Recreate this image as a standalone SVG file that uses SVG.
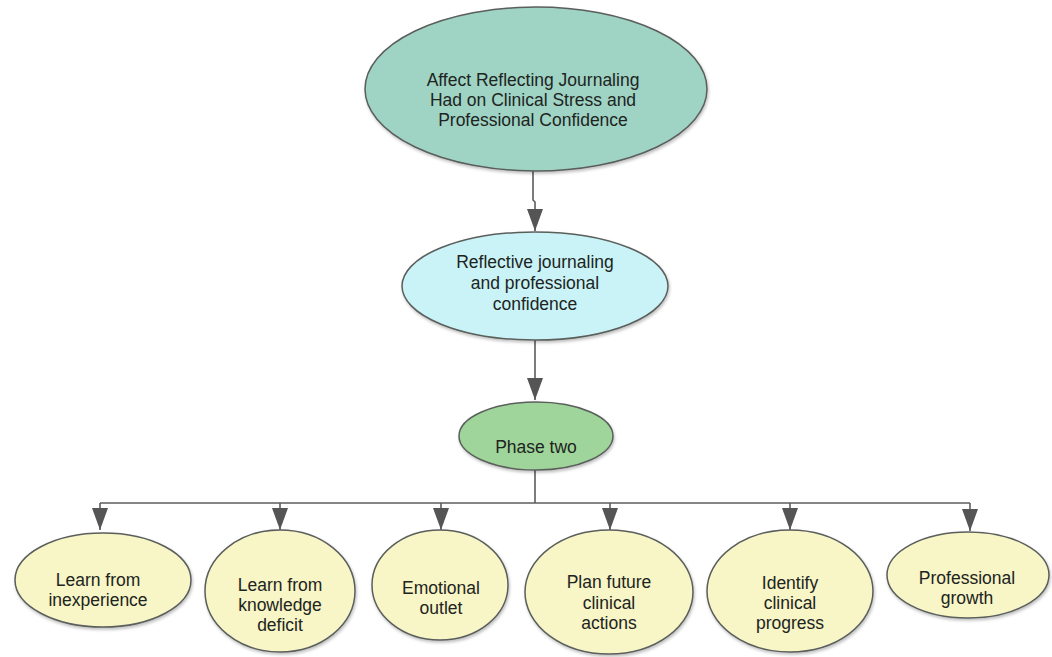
<svg xmlns="http://www.w3.org/2000/svg" width="1052" height="657" viewBox="0 0 1052 657">
  <style>
    .node ellipse { stroke: #5a5f5c; stroke-width: 1.5; filter: url(#shadow); }
    .root ellipse { fill: #9fd3c4; }
    .mid ellipse { fill: #c9f3f7; }
    .phase ellipse { fill: #9fd59a; }
    .leaf ellipse { fill: #f8f5c6; }
    .node text { font-family: "Liberation Sans", Arial, sans-serif; font-size: 17.5px; fill: #202421; text-anchor: middle; }
    .edge { fill: none; stroke: #5c5c5c; stroke-width: 1.6; }
  </style>
  <defs>
    <filter id="shadow" x="-10%" y="-10%" width="120%" height="130%">
      <feDropShadow dx="1" dy="2" stdDeviation="1.5" flood-color="#000" flood-opacity="0.25"/>
    </filter>
    <marker id="arrow" markerUnits="userSpaceOnUse" markerWidth="22" markerHeight="16" viewBox="0 0 22 16" refX="22" refY="8" orient="auto">
      <path d="M0,0 L22,8 L0,16 Z" fill="#555"/>
    </marker>
  </defs>
  <rect width="1052" height="657" fill="#ffffff"/>

  <g id="connectors">
    <path class="edge" d="M533,171 L533,200 L535,202 L535,231" marker-end="url(#arrow)"/>
    <path class="edge" d="M535,340 L535,400" marker-end="url(#arrow)"/>
    <path class="edge" d="M535,470 L535,503"/>
    <path class="edge" d="M100,503 L970,503"/>
    <path class="edge" d="M100,503 L100,530" marker-end="url(#arrow)"/>
    <path class="edge" d="M280,503 L280,530" marker-end="url(#arrow)"/>
    <path class="edge" d="M441,503 L441,530" marker-end="url(#arrow)"/>
    <path class="edge" d="M610,503 L610,530" marker-end="url(#arrow)"/>
    <path class="edge" d="M790,503 L790,530" marker-end="url(#arrow)"/>
    <path class="edge" d="M970,503 L970,531" marker-end="url(#arrow)"/>
  </g>

  <g id="root" class="node root">
    <ellipse cx="536" cy="89" rx="171" ry="82"/>
    <text x="533" y="86">Affect Reflecting Journaling</text>
    <text x="533" y="106">Had on Clinical Stress and</text>
    <text x="533" y="126">Professional Confidence</text>
  </g>

  <g id="reflective" class="node mid">
    <ellipse cx="535" cy="286" rx="133" ry="54"/>
    <text x="535" y="268">Reflective journaling</text>
    <text x="535" y="289">and professional</text>
    <text x="535" y="310">confidence</text>
  </g>

  <g id="phase-two" class="node phase">
    <ellipse cx="536" cy="436" rx="77" ry="34"/>
    <text x="536" y="453">Phase two</text>
  </g>

  <g id="inexperience" class="node leaf">
    <ellipse cx="103" cy="580" rx="88" ry="47"/>
    <text x="98" y="586">Learn from</text>
    <text x="98" y="606">inexperience</text>
  </g>

  <g id="knowledge-deficit" class="node leaf">
    <ellipse cx="280" cy="591" rx="75" ry="61"/>
    <text x="280" y="591">Learn from</text>
    <text x="280" y="611">knowledge</text>
    <text x="280" y="631">deficit</text>
  </g>

  <g id="emotional-outlet" class="node leaf">
    <ellipse cx="440" cy="585" rx="68" ry="55"/>
    <text x="441" y="594">Emotional</text>
    <text x="441" y="614">outlet</text>
  </g>

  <g id="plan-future" class="node leaf">
    <ellipse cx="609" cy="592" rx="84" ry="62"/>
    <text x="609" y="588">Plan future</text>
    <text x="609" y="609">clinical</text>
    <text x="609" y="629">actions</text>
  </g>

  <g id="identify-progress" class="node leaf">
    <ellipse cx="790" cy="591" rx="83" ry="61"/>
    <text x="790" y="589">Identify</text>
    <text x="790" y="609">clinical</text>
    <text x="790" y="629">progress</text>
  </g>

  <g id="professional-growth" class="node leaf">
    <ellipse cx="968" cy="575" rx="81" ry="43"/>
    <text x="967" y="584">Professional</text>
    <text x="967" y="604">growth</text>
  </g>
</svg>
